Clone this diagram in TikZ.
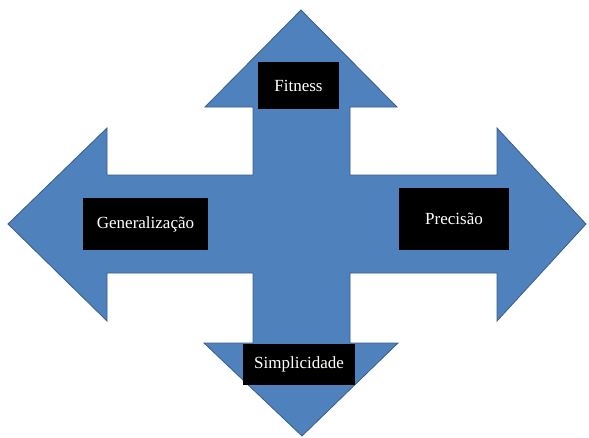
\documentclass[tikz,border=0pt]{standalone}
\usepackage{fontspec}
\setmainfont{Liberation Serif}
\definecolor{arrowfill}{HTML}{4F81BD}
\definecolor{arrowline}{HTML}{385D8A}
\begin{document}
\begin{tikzpicture}[x=1pt,y=-1pt,
  label box/.style={fill=black,text=white,font=\fontsize{17}{19}\selectfont,inner sep=0pt},
  cross/.style={fill=arrowfill,draw=arrowline,line width=0.8pt,line join=miter}]
\useasboundingbox (0,0) rectangle (589,437);
% four-way arrow
\draw[cross]
  (301,10) -- (397,107) -- (350,107) -- (350,175) -- (497,175) -- (497,128)
  -- (586,224) -- (497,321) -- (497,273) -- (350,273) -- (350,343)
  -- (398,343) -- (302,436) -- (204,343) -- (253,343) -- (253,273)
  -- (107,273) -- (107,321) -- (8,224) -- (107,128) -- (107,175)
  -- (253,175) -- (253,107) -- (205,107) -- cycle;
% labels
\node[label box,minimum width=81pt,minimum height=47pt] (fit) at (298.5,85.5) {Fitness};
\node[label box,minimum width=125pt,minimum height=52pt] (gen) at (145.5,224) {Generalização};
\node[label box,minimum width=110pt,minimum height=62pt] (pre) at (454,219) {Precisão};
\node[label box,minimum width=112pt,minimum height=41pt] (sim) at (299,364.5) {Simplicidade};
\end{tikzpicture}
\end{document}
